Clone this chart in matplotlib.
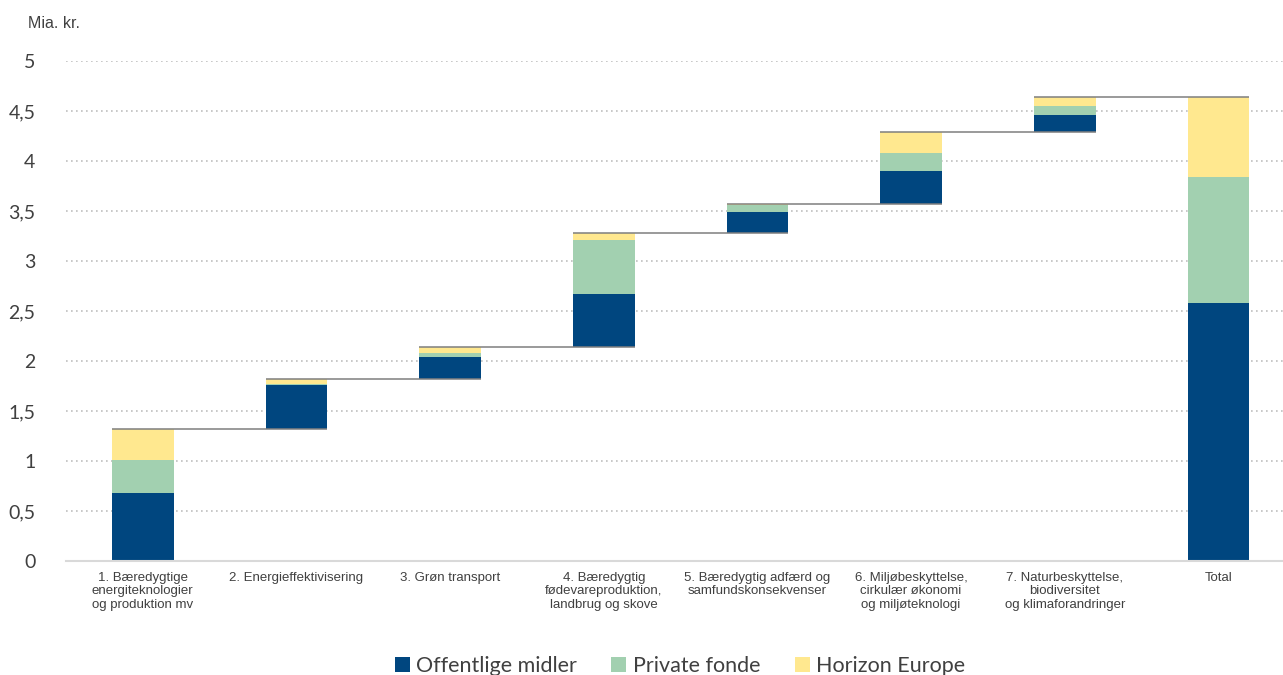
import numpy as np
import matplotlib.pyplot as plt

# ---- DATA (mia. kr.) ----
categories = [
    "1. Bæredygtige\nenergiteknologier\nog produktion mv",
    "2. Energieffektivisering",
    "3. Grøn transport",
    "4. Bæredygtig\nfødevareproduktion,\nlandbrug og skove",
    "5. Bæredygtig adfærd og\nsamfundskonsekvenser",
    "6. Miljøbeskyttelse,\ncirkulær økonomi\nog miljøteknologi",
    "7. Naturbeskyttelse,\nbiodiversitet\nog klimaforandringer",
    "Total",
]
offentlige = [0.68, 0.44, 0.22, 0.53, 0.21, 0.335, 0.17]
private = [0.33, 0.01, 0.04, 0.54, 0.07, 0.18, 0.09]
horizon = [0.31, 0.05, 0.06, 0.07, 0.01, 0.21, 0.09]
y_ticks = [0, 0.5, 1, 1.5, 2, 2.5, 3, 3.5, 4, 4.5, 5]
y_labels = ["0", "0,5", "1", "1,5", "2", "2,5", "3", "3,5", "4", "4,5", "5"]

blue = "#00467f"
green = "#a2d0b0"
yellow = "#ffe88f"
text_col = "#404040"

# ---- WATERFALL ----
seg = np.array([offentlige, private, horizon])
steps = seg.sum(axis=0)
bases = np.concatenate([[0], np.cumsum(steps)[:-1]])
totals = seg.sum(axis=1)

bottoms = np.append(bases, 0)
vals = np.column_stack([seg, totals])  # 3 x 8
x = np.arange(len(categories))
w = 0.40

fig = plt.figure(figsize=(12.83, 6.75), dpi=100)
ax = fig.add_axes([0.0514, 0.1689, 0.9486, 0.7407])

names = ["Offentlige midler", "Private fonde", "Horizon Europe"]
cols = [blue, green, yellow]
cur = bottoms.copy()
for i in range(3):
    ax.bar(x, vals[i], w, bottom=cur, color=cols[i], label=names[i], zorder=3)
    cur = cur + vals[i]

# connector lines
tops = np.cumsum(steps)
for i in range(len(steps)):
    ax.plot([x[i] - w / 2, x[i + 1] + w / 2], [tops[i], tops[i]],
            color="#7f7f7f", lw=1.1, zorder=4, solid_capstyle="butt")

# ---- FORMATTING ----
ax.set_xlim(-0.5, 7.42)
ax.set_ylim(0, 5)
ax.set_yticks(y_ticks)
ax.set_yticklabels(y_labels, fontsize=14, color=text_col, family="Lato")
ax.set_xticks(x)
ax.set_xticklabels(categories, fontsize=9.5, color=text_col, family="Liberation Sans",
                   linespacing=1.15)
ax.tick_params(axis="both", length=0)
ax.tick_params(axis="y", pad=22)
ax.tick_params(axis="x", pad=8)
ax.yaxis.grid(True, linestyle=(0, (1, 2)), color="#bfbfbf", lw=1.2, zorder=0)
for s in ["top", "right", "left"]:
    ax.spines[s].set_visible(False)
ax.spines["bottom"].set_color("#d9d9d9")
ax.spines["bottom"].set_linewidth(1.5)
ax.spines["bottom"].set_zorder(5)

fig.text(0.022, 0.965, "Mia. kr.", fontsize=11.5, color=text_col,
         family="Liberation Sans", va="center")

fig.legend(loc="center", bbox_to_anchor=(0.53, 0.013), ncol=3, frameon=False,
           prop={"family": "Lato", "size": 15.5}, labelcolor=text_col,
           handlelength=0.7, handleheight=0.7, handletextpad=0.3, columnspacing=1.6)

fig.savefig("out.png", dpi=100)
